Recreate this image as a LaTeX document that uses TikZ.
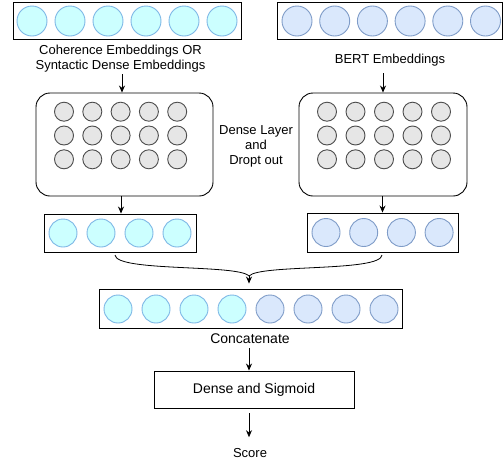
\documentclass[tikz,border=0pt]{standalone}
\usepackage{fontspec}
\setmainfont{Liberation Sans}
\usetikzlibrary{arrows.meta}
\definecolor{cyfill}{HTML}{CCFFFF}
\definecolor{cyline}{HTML}{7EB8E6}
\definecolor{blfill}{HTML}{DAE8FC}
\definecolor{blline}{HTML}{7F9CC8}
\definecolor{grfill}{HTML}{E6E6E6}
\definecolor{grline}{HTML}{4D4D4D}
\tikzset{
  box/.style={draw=black, line width=0.9pt, fill=white, rectangle, inner sep=0pt},
  rbox/.style={box, rounded corners=14pt},
  cyc/.style={circle, draw=cyline, fill=cyfill, line width=0.9pt, inner sep=0pt, minimum size=#1},
  blc/.style={circle, draw=blline, fill=blfill, line width=0.9pt, inner sep=0pt, minimum size=#1},
  grc/.style={circle, draw=grline, fill=grfill, line width=0.9pt, inner sep=0pt, minimum size=19pt},
  lbl/.style={align=center, inner sep=1pt, font=\fontsize{13}{15}\selectfont},
  lblb/.style={align=center, inner sep=1pt, font=\fontsize{14}{16}\selectfont},
  arr/.style={-{Stealth[length=7pt,width=6pt]}, line width=0.8pt},
  brc/.style={line width=0.8pt}
}
\begin{document}
\begin{tikzpicture}[x=1pt,y=-1pt]
\useasboundingbox (0,0) rectangle (503,464);
% top boxes
\node[box, minimum width=228pt, minimum height=37pt] (tlbox) at (127,20.5) {};
\node[box, minimum width=225pt, minimum height=37pt] (trbox) at (389.5,20.5) {};
\foreach \i in {0,...,5} \node[cyc=30pt] (tl\i) at ({32+38*\i},21) {};
\foreach \i in {0,...,5} \node[blc=30pt] (tr\i) at ({297+37.7*\i},21) {};
% labels
\node[lbl] (cohlbl) at (120.5,58.5) {Coherence Embeddings OR\\Syntactic Dense Embeddings};
\node[lbl] (bertlbl) at (390,60) {BERT Embeddings};
\node[lbl] (denselbl) at (256,146.5) {Dense Layer\\and\\Dropt out};
% dense boxes
\node[rbox, minimum width=177pt, minimum height=103pt] (ldense) at (124.5,144.5) {};
\node[rbox, minimum width=168pt, minimum height=103pt] (rdense) at (383,144.5) {};
\foreach \r/\y in {0/111.7,1/135.5,2/159.3}
  \foreach \i in {0,...,4} {
    \node[grc] (lg\r\i) at ({64+28.3*\i},\y) {};
    \node[grc] (rg\r\i) at ({327+28.5*\i},\y) {};
  }
% mid boxes
\node[box, minimum width=152pt, minimum height=38pt] (lmid) at (120,233) {};
\node[box, minimum width=151pt, minimum height=39pt] (rmid) at (382.5,232.5) {};
\foreach \i in {0,...,3} \node[cyc=28pt] (lm\i) at ({63+38*\i},233) {};
\foreach \i in {0,...,3} \node[blc=28pt] (rm\i) at ({326+37.7*\i},232.5) {};
% concat box
\node[box, minimum width=303pt, minimum height=39pt] (concat) at (250.5,308.5) {};
\foreach \i in {0,...,3} \node[cyc=28pt] (cc\i) at ({118+38*\i},309) {};
\foreach \i in {4,...,7} \node[blc=28pt] (cc\i) at ({118+38*\i},309) {};
\node[lblb] (conclbl) at (250,339) {Concatenate};
\node[box, minimum width=200pt, minimum height=37pt, font=\fontsize{14}{16}\selectfont] (sig) at (254,389.5) {Dense and Sigmoid};
\node[lbl] (score) at (250,453) {Score};
% brace meeting point
\coordinate (bl) at (115,255);
\coordinate (br) at (382,255);
\coordinate (bm) at (249,276);
% arrows
\draw[arr, shorten <=1pt] ([xshift=1.5pt]cohlbl.south) -- ([xshift=1.5pt]cohlbl.south |- ldense.north);
\draw[arr, shorten <=6pt] (bertlbl.south -| rdense.north) -- (rdense.north);
\draw[arr] ([xshift=1pt]lmid.north |- ldense.south) -- ([xshift=1pt]lmid.north);
\draw[arr] (rdense.south -| rmid.north) -- (rmid.north);
% brace
\draw[brc] (bl) .. controls (116,272) and (238,264) .. (bm);
\draw[brc] (br) .. controls (381,272) and (260,264) .. (bm);
\draw[arr, shorten >=5pt] (bm) -- (bm |- concat.north);
\draw[arr, shorten <=3pt] (conclbl.south -| bm) -- (sig.north -| bm);
\draw[arr, shorten <=5pt, shorten >=10pt] (sig.south -| bm) -- (score.north -| bm);
\end{tikzpicture}
\end{document}
